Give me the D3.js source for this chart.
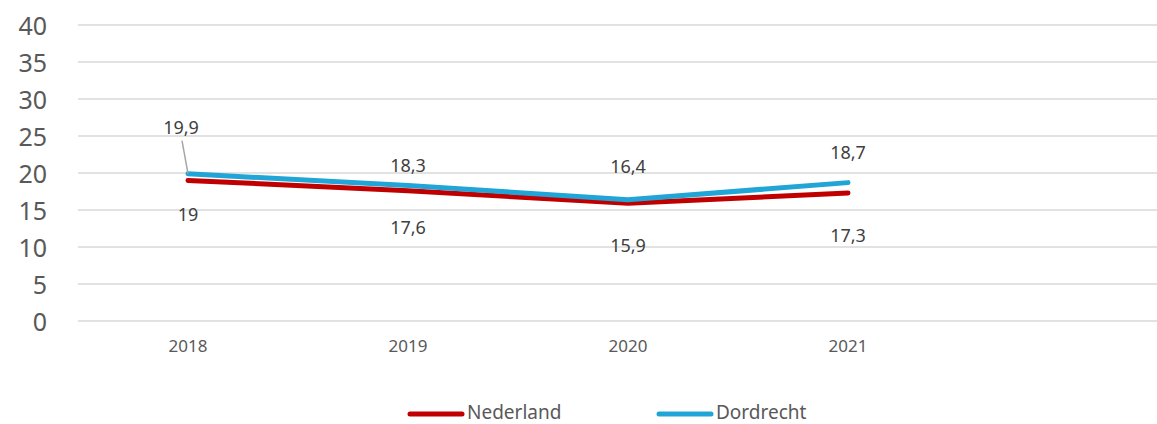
<!DOCTYPE html>
<html>
<head>
<meta charset="utf-8">
<script src="https://cdn.jsdelivr.net/npm/d3@7"></script>
<style>
  html, body { margin: 0; padding: 0; background: #fff; }
  svg { display: block; font-family: "Noto Sans", "Open Sans", sans-serif; }
</style>
</head>
<body>
<svg id="chart" width="1157" height="424"></svg>
<script>
const categories = ["2018", "2019", "2020", "2021", ""];
const years = ["2018", "2019", "2020", "2021"];
const nederland = [19, 17.6, 15.9, 17.3];
const dordrecht = [19.9, 18.3, 16.4, 18.7];
const yTicks = [0, 5, 10, 15, 20, 25, 30, 35, 40];
const seriesNames = ["Nederland", "Dordrecht"];
const seriesColors = ["#c00000", "#21a5d6"];

(function () {
const svg = d3.select("#chart");
const mLeft = 78, mRight = 1178, mTop = 25, mBottom = 321;

const x = d3.scaleBand().domain(categories).range([mLeft, mRight]);
const y = d3.scaleLinear().domain([0, 40]).range([mBottom, mTop]);
const cx = d => x(d) + x.bandwidth() / 2;

// gridlines
svg.append("g")
  .selectAll("line").data(yTicks).join("line")
  .attr("x1", mLeft).attr("x2", mRight)
  .attr("y1", d => y(d)).attr("y2", d => y(d))
  .attr("stroke", "#d9d9d9").attr("stroke-width", 1.5);

// y axis labels
const yAxis = d3.axisLeft(y).tickValues(yTicks).tickSize(0).tickPadding(0).tickFormat(d3.format("d"));
const gy = svg.append("g").attr("transform", "translate(47,0)").call(yAxis);
gy.select(".domain").remove();
gy.selectAll("text").attr("font-size", 25).attr("fill", "#595959")
  .attr("font-family", "Noto Sans, sans-serif").attr("dy", "0.36em");

// x axis labels
const xAxis = d3.axisBottom(x).tickValues(years).tickSize(0).tickPadding(0);
const gx = svg.append("g").attr("transform", "translate(0,340)").call(xAxis);
gx.select(".domain").remove();
gx.selectAll("text").attr("font-size", 17).attr("fill", "#595959")
  .attr("font-family", "Noto Sans, sans-serif").attr("dy", "0.71em");

// lines
const line = d3.line().x((d, i) => cx(years[i])).y(d => y(d));
[nederland, dordrecht].forEach((vals, si) => {
  svg.append("path").datum(vals)
    .attr("d", line)
    .attr("fill", "none")
    .attr("stroke", seriesColors[si])
    .attr("stroke-width", 5)
    .attr("stroke-linejoin", "round")
    .attr("stroke-linecap", "round");
});

const fmt = v => String(v).replace(".", ",");

// data labels: Dordrecht above
const dOffsets = [-46, -20, -33, -30];
svg.append("line")
  .attr("x1", cx(years[0]) - 6).attr("y1", y(dordrecht[0]) + dOffsets[0] + 13)
  .attr("x2", cx(years[0])).attr("y2", y(dordrecht[0]))
  .attr("stroke", "#a6a6a6").attr("stroke-width", 1.5);

svg.append("g").selectAll("text").data(dordrecht).join("text")
  .attr("x", (d, i) => cx(years[i]) - (i === 0 ? 7 : 0))
  .attr("y", (d, i) => y(d) + dOffsets[i])
  .attr("text-anchor", "middle").attr("dy", "0.35em")
  .attr("font-size", 18).attr("fill", "#404040")
  .text(fmt);

const nOffsets = [34, 37, 42, 43];
svg.append("g").selectAll("text").data(nederland).join("text")
  .attr("x", (d, i) => cx(years[i]))
  .attr("y", (d, i) => y(d) + nOffsets[i])
  .attr("text-anchor", "middle").attr("dy", "0.35em")
  .attr("font-size", 18).attr("fill", "#404040")
  .text(fmt);

// legend
const legendX = [408, 657];
const lg = svg.append("g").selectAll("g").data(seriesNames).join("g")
  .attr("transform", (d, i) => `translate(${legendX[i]},412)`);
lg.append("line").attr("x1", 2).attr("x2", 54).attr("y1", 2).attr("y2", 2)
  .attr("stroke", (d, i) => seriesColors[i]).attr("stroke-width", 5).attr("stroke-linecap", "round");
lg.append("text").attr("x", 59).attr("dy", "0.35em")
  .attr("font-size", 19).attr("fill", "#595959").text(d => d);
})();
</script>
</body>
</html>
